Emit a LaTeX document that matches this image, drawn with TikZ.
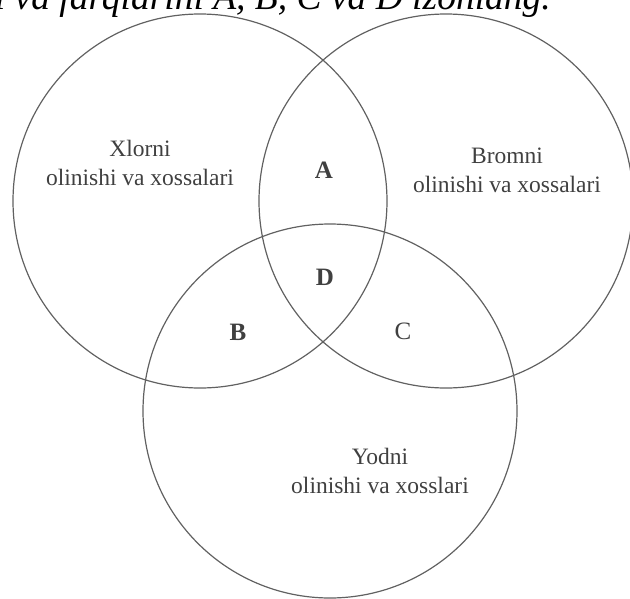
\documentclass[tikz,border=0pt]{standalone}
\usepackage{fontspec}
\setmainfont{Liberation Serif}
\begin{document}
\begin{tikzpicture}[x=1pt,y=-1pt,
  ring/.style={circle,draw=black!62,line width=1.2pt,inner sep=0pt,minimum size=374pt},
  label/.style={text=black!75,align=center,font=\fontsize{23.5}{29}\selectfont},
  region/.style={text=black!75,font=\fontsize{25}{30}\selectfont\bfseries},
  regionlight/.style={text=black!75,font=\fontsize{25}{30}\selectfont},
  task/.style={text=black,inner sep=0pt,font=\fontsize{37.5}{40}\selectfont\itshape}]
\useasboundingbox (0,0) rectangle (630,598);
% three overlapping sets
\node[ring] (cl) at (200,201) {};
\node[ring] (br) at (446,201) {};
\node[ring] (io) at (330,411) {};
% set captions (anchored on the baseline of their last line)
\node[label,anchor=base] (tcl) at (140,185) {Xlorni\\olinishi va xossalari};
\node[label,anchor=base] (tbr) at (507,192) {Bromni\\olinishi va xossalari};
\node[label,anchor=base] (tio) at (380,493) {Yodni\\olinishi va xosslari};
% intersection letters
\node[region] (ra) at (324,170) {A};
\node[region] (rd) at (325,277) {D};
\node[region] (rb) at (238,332) {B};
\node[regionlight] (rc) at (403,331) {C};
% task line above the diagram
\node[task,anchor=base east] (q) at (551,9.5) {i va farqlarini A, B, C va D izohlang.};
\end{tikzpicture}
\end{document}
